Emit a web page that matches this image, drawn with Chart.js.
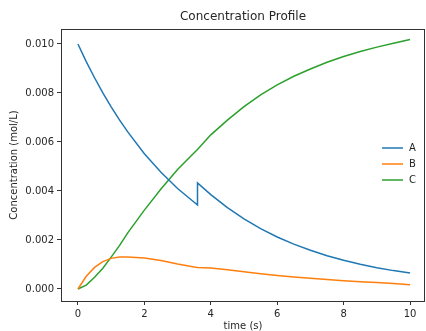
<!DOCTYPE html>
<html>
<head>
<meta charset="utf-8">
<script src="https://cdn.jsdelivr.net/npm/chart.js@4.4.1/dist/chart.umd.min.js"></script>
<style>
  html, body { margin: 0; padding: 0; background: #fff; }
  #grafico { display: block; }
</style>
</head>
<body>
<canvas id="grafico" width="426" height="331"></canvas>
<script>
// tempo (s) - o ponto 3.6 aparece duas vezes por causa do salto em A
const tempo = [0, 0.25, 0.5, 0.75, 1, 1.25, 1.5, 2, 2.5, 3, 3.5, 3.6, 3.6,
  4, 4.5, 5, 5.5, 6, 6.5, 7, 7.5, 8, 8.5, 9, 9.5, 10];

const serieA = [0.01, 0.00928, 0.00862, 0.0080, 0.00743, 0.0069, 0.00641, 0.00552, 0.00476, 0.0041, 0.00354, 0.00343, 0.00433,
  0.00385, 0.00332, 0.00286, 0.00246, 0.00212, 0.00183, 0.00158, 0.00136, 0.00117, 0.00101, 0.00087, 0.00075, 0.00065];
const serieB = [0, 0.00052, 0.00088, 0.00112, 0.00125, 0.00131, 0.00131, 0.00126, 0.00116, 0.00102, 0.0009, 0.00088, 0.00088,
  0.00086, 0.00079, 0.0007, 0.00062, 0.00055, 0.00049, 0.00044, 0.00039, 0.00034, 0.0003, 0.00026, 0.00022, 0.00017];
const serieC = [0, 0.00016, 0.00048, 0.00085, 0.0013, 0.00177, 0.00229, 0.00322, 0.00408, 0.00488, 0.00556, 0.00569, 0.00569,
  0.00629, 0.00689, 0.00744, 0.00792, 0.00833, 0.00868, 0.00898, 0.00925, 0.00949, 0.00969, 0.00987, 0.01003, 0.01018];

const nomes = ['A', 'B', 'C'];
const cores = ['#1f77b4', '#ff7f0e', '#2ca02c'];

const ticksX = [0, 2, 4, 6, 8, 10];
const ticksY = [0, 0.002, 0.004, 0.006, 0.008, 0.010];

const fonte = "'DejaVu Sans', sans-serif";
const corTexto = '#262626';

function pontos(ys) {
  return tempo.map((t, i) => ({ x: t, y: ys[i] }));
}

// caixa, titulo e legenda no estilo matplotlib
const molduraPlugin = {
  id: 'moldura',
  afterDraw(chart) {
    const ctx = chart.ctx;
    const a = chart.chartArea;
    ctx.save();
    ctx.strokeStyle = '#333';
    ctx.lineWidth = 1;
    ctx.strokeRect(a.left + 0.5, a.top + 0.5, a.right - a.left - 1, a.bottom - a.top);

    ctx.fillStyle = corTexto;
    ctx.font = '12px ' + fonte;
    ctx.textAlign = 'center';
    ctx.textBaseline = 'middle';
    ctx.fillText('Concentration Profile', (a.left + a.right) / 2, 17);

    ctx.font = '10px ' + fonte;
    ctx.textAlign = 'left';
    for (let i = 0; i < nomes.length; i++) {
      let y = 148 + i * 16;
      ctx.strokeStyle = cores[i];
      ctx.lineWidth = 1.5;
      ctx.beginPath();
      ctx.moveTo(382, y);
      ctx.lineTo(403, y);
      ctx.stroke();
      ctx.fillText(nomes[i], 409, y);
    }
    ctx.restore();
  }
};

new Chart(document.getElementById('grafico'), {
  type: 'line',
  data: {
    datasets: [
      { label: nomes[0], data: pontos(serieA), borderColor: cores[0], borderWidth: 1.5, pointRadius: 0, tension: 0, fill: false },
      { label: nomes[1], data: pontos(serieB), borderColor: cores[1], borderWidth: 1.5, pointRadius: 0, tension: 0, fill: false },
      { label: nomes[2], data: pontos(serieC), borderColor: cores[2], borderWidth: 1.5, pointRadius: 0, tension: 0, fill: false }
    ]
  },
  options: {
    responsive: false,
    animation: false,
    devicePixelRatio: 1,
    layout: { padding: { top: 29, right: 1, left: 0, bottom: 0 } },
    plugins: {
      legend: { display: false },
      title: { display: false },
      tooltip: { enabled: false }
    },
    scales: {
      x: {
        type: 'linear',
        min: -0.51,
        max: 10.45,
        afterFit: (scale) => { scale.height = 30; },
        afterBuildTicks: (scale) => { scale.ticks = ticksX.map(v => ({ value: v })); },
        border: { display: false },
        grid: { drawOnChartArea: false, drawTicks: true, tickLength: 4, color: '#333' },
        ticks: { padding: 3, color: corTexto, font: { family: fonte, size: 10 } },
        title: { display: true, text: 'time (s)', color: corTexto, padding: 0,
          font: { family: fonte, size: 10, lineHeight: 1 } }
      },
      y: {
        min: -0.00049,
        max: 0.01061,
        afterFit: (scale) => { scale.width = 61; },
        afterBuildTicks: (scale) => { scale.ticks = ticksY.map(v => ({ value: v })); },
        border: { display: false },
        grid: { drawOnChartArea: false, drawTicks: true, tickLength: 4, color: '#333' },
        ticks: { padding: 3, color: corTexto, font: { family: fonte, size: 10 },
          callback: (v) => Number(v).toFixed(3) },
        title: { display: true, text: 'Concentration (mol/L)', color: corTexto,
          padding: { top: 8, bottom: 0 }, font: { family: fonte, size: 10 } }
      }
    }
  },
  plugins: [molduraPlugin]
});
</script>
</body>
</html>
